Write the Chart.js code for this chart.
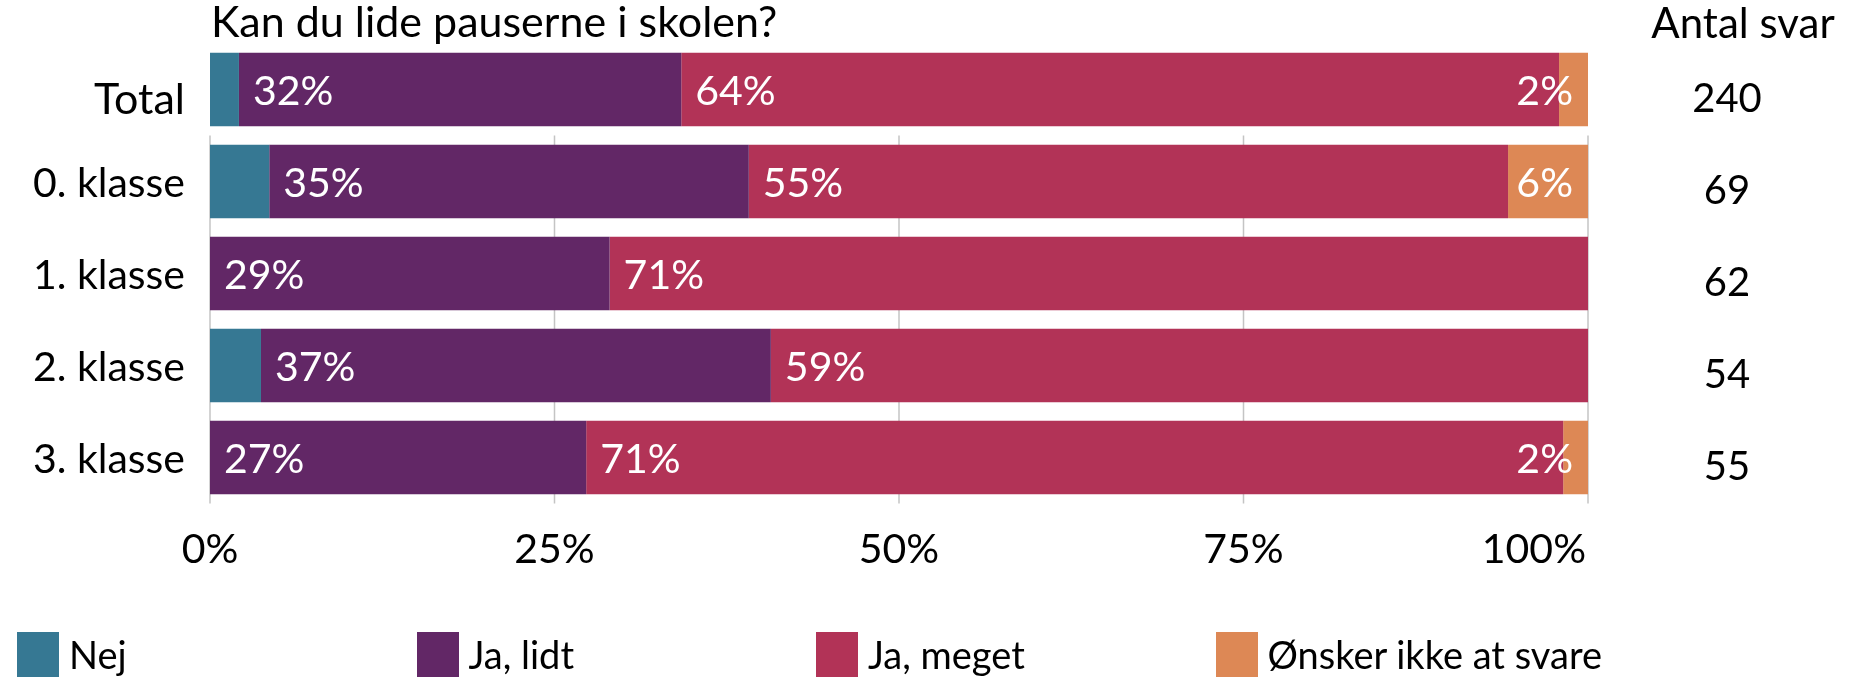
<!DOCTYPE html>
<html>
<head>
<meta charset="utf-8">
<script src="https://cdn.jsdelivr.net/npm/chart.js@4/dist/chart.umd.min.js"></script>
<style>
  html, body { margin: 0; padding: 0; background: #fff; }
  #wrap { position: relative; width: 1850px; height: 690px; font-family: Lato, sans-serif; }
  #chart { position: absolute; left: 0; top: 0; }
  .item { position: absolute; top: 631px; display: flex; align-items: center; font-size: 38px; color: #000; }
  .box { width: 42px; height: 45px; margin-right: 10px; }
</style>
</head>
<body>
<div id="wrap">
  <canvas id="chart" width="1850" height="690"></canvas>
  <div id="legend"></div>
</div>
<script>
const title = "Kan du lide pauserne i skolen?";
const countTitle = "Antal svar";
const categories = ["Total", "0. klasse", "1. klasse", "2. klasse", "3. klasse"];
const seriesNames = ["Nej", "Ja, lidt", "Ja, meget", "Ønsker ikke at svare"];
const nej = [2.1, 4.3, 0, 3.7, 0];
const jaLidt = [32.1, 34.8, 29.0, 37.0, 27.3];
const jaMeget = [63.7, 55.1, 71.0, 59.3, 70.9];
const onsker = [2.1, 5.8, 0, 0, 1.8];
const antalSvar = [240, 69, 62, 54, 55];
const xTicks = [0, 25, 50, 75, 100];

const colors = ["#367893", "#622766", "#b23357", "#dd8855"];
const FONT = "Lato, sans-serif";

// legend in html, fixed spacing like the original
const legend = document.getElementById("legend");
seriesNames.forEach((name, i) => {
  const el = document.createElement("div");
  el.className = "item";
  el.style.left = (17 + i * 399.5) + "px";
  el.innerHTML = '<span class="box" style="background:' + colors[i] + '"></span><span>' + name + '</span>';
  legend.appendChild(el);
});

const overlay = {
  id: "overlay",
  beforeDatasetsDraw(chart) {
    const { ctx, chartArea, scales: { x, y } } = chart;
    const top = (y.getPixelForValue(0) + y.getPixelForValue(1)) / 2;
    ctx.save();
    ctx.strokeStyle = "#c4c4c4";
    ctx.lineWidth = 1.5;
    xTicks.forEach(v => {
      const px = x.getPixelForValue(v);
      ctx.beginPath();
      ctx.moveTo(px, top);
      ctx.lineTo(px, chartArea.bottom);
      ctx.stroke();
    });
    ctx.restore();
  },
  afterDatasetsDraw(chart) {
    const { ctx, chartArea } = chart;
    ctx.save();
    ctx.font = "41px " + FONT;
    ctx.fillStyle = "#fff";
    ctx.textBaseline = "alphabetic";
    ctx.textAlign = "left";
    chart.data.datasets.forEach((ds, i) => {
      if (i === 0) return;
      chart.getDatasetMeta(i).data.forEach((bar, j) => {
        const v = ds.data[j];
        if (!v) return;
        const txt = Math.round(v) + "%";
        const w = ctx.measureText(txt).width;
        let tx = bar.base + 14;
        if (tx + w > chartArea.right - 15) tx = chartArea.right - 15 - w;
        ctx.fillText(txt, tx, bar.y + 15);
      });
    });
    ctx.restore();
  },
  afterDraw(chart) {
    const { ctx, chartArea, scales: { x, y } } = chart;
    ctx.save();
    ctx.fillStyle = "#000";
    ctx.textBaseline = "alphabetic";

    ctx.font = "43px " + FONT;
    ctx.textAlign = "left";
    ctx.fillText(title, chartArea.left + 1, 37);

    ctx.font = "42px " + FONT;
    ctx.textAlign = "center";
    ctx.fillText(countTitle, 1743, 38);

    // category labels
    ctx.textAlign = "right";
    categories.forEach((c, i) => {
      const cy = y.getPixelForValue(i);
      if (i === 0) {
        ctx.font = "43px " + FONT;
        ctx.fillText(c, 185, cy + 24);
      } else {
        ctx.font = "41px " + FONT;
        ctx.fillText(c, 185, cy + 15);
      }
    });

    // answer counts
    ctx.font = "40px " + FONT;
    ctx.textAlign = "center";
    antalSvar.forEach((n, i) => {
      ctx.fillText(String(n), 1727, y.getPixelForValue(i) + 22);
    });

    // x tick labels
    ctx.font = "41px " + FONT;
    xTicks.forEach((v, i) => {
      const px = x.getPixelForValue(v);
      if (i === xTicks.length - 1) {
        ctx.textAlign = "right";
        ctx.fillText(v + "%", px - 2, 563);
      } else {
        ctx.textAlign = "center";
        ctx.fillText(v + "%", px, 563);
      }
    });
    ctx.restore();
  }
};

function draw() {
  new Chart(document.getElementById("chart"), {
    type: "bar",
    data: {
      labels: categories,
      datasets: [nej, jaLidt, jaMeget, onsker].map((d, i) => ({
        label: seriesNames[i],
        data: d,
        backgroundColor: colors[i],
        borderWidth: 0,
        categoryPercentage: 1,
        barPercentage: 0.8
      }))
    },
    options: {
      indexAxis: "y",
      responsive: false,
      animation: false,
      devicePixelRatio: 1,
      layout: { padding: { top: 43.5, right: 262, bottom: 186.5, left: 0 } },
      plugins: { legend: { display: false }, tooltip: { enabled: false } },
      scales: {
        x: {
          stacked: true,
          min: 0,
          max: 100,
          ticks: { display: false, stepSize: 25 },
          grid: { display: false },
          border: { display: false },
          afterFit: scale => { scale.height = 0; }
        },
        y: {
          stacked: true,
          ticks: { display: false },
          grid: { display: false },
          border: { display: false },
          afterFit: scale => { scale.width = 210; }
        }
      }
    },
    plugins: [overlay]
  });
}

Promise.all([
  document.fonts.load("40px Lato"),
  document.fonts.load("bold 40px Lato")
]).then(draw, draw);
</script>
</body>
</html>
